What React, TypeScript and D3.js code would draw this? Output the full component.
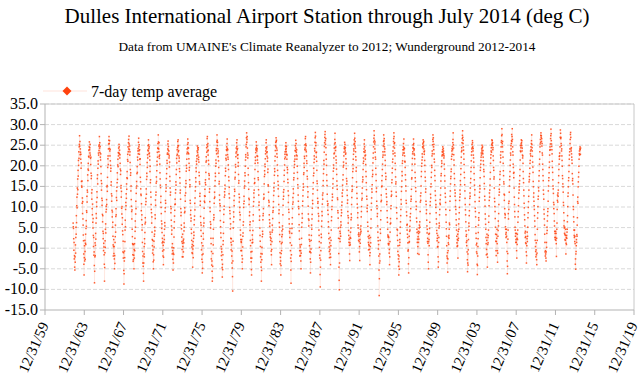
import React from "react";
import * as d3 from "d3";

// ---- Data (weekly 7-day average temperatures, deg C, estimated from the chart) ----
const firstYear = 1962;
const firstWeekOf1962 = 45; // series starts mid-November 1962

const temps1960s: number[][] = [
  [6.1, 5.2, 4.8, 2.3, -0.5, 1.4, -2.6],
  [-1.8,-4.6,-5.3,-2.1,-3.4,0.8,-1.2,2.6,5.1,3.4,7.9,6.2,10.3, 12.4,9.8,14.6,13.1,16.8,14.2,18.9,17.5,21.3,20.1,23.4,21.8,24.6, 25.2,27.3,24.8,25.9,22.7,24.1,23.3,21.6,22.8,19.4,20.7,16.2,15.1, 14.8,16.3,10.9,12.2,8.4,11.3,7.1,5.6,3.2,1.8,-1.4,-3.9,-6.5],
  [-2.3,0.6,-3.1,1.9,-0.8,-2.7,1.2,3.4,0.9,4.8,6.7,5.3,9.1, 8.7,12.6,11.2,14.1,13.6,17.8,16.4,19.2,20.6,18.9,22.3,23.8,22.1, 24.6,25.8,23.9,24.4,23.1,25.2,22.6,21.8,20.3,22.1,18.2,16.9,17.6, 13.4,11.9,14.2,9.6,8.1,10.7,6.3,4.9,7.2,3.1,0.4,2.6,-1.7],
  [-0.9,-4.2,-8.4,-5.6,-2.1,1.3,-1.8,0.7,3.6,2.2,6.1,8.4,7.3, 11.2,10.1,13.7,12.3,16.9,17.8,15.6,19.4,21.2,20.4,23.1,22.6,24.8, 23.7,25.1,27.1,24.3,25.6,23.2,24.7,22.1,21.4,22.9,19.8,18.1,16.4, 14.1,15.7,12.1,10.4,11.6,8.2,6.4,7.9,4.1,2.3,3.6,-0.6,1.2],
  [0.3,-1.6,-3.9,-8.0,-4.7,-1.1,1.8,0.2,4.6,5.9,3.7,8.8,10.2, 9.4,11.8,10.6,14.9,15.2,13.8,17.2,19.6,21.7,22.4,20.3,24.1,25.3, 26.2,27.1,25.4,24.2,26.1,23.6,22.4,24.0,21.2,20.1,18.7,19.4,15.3, 16.1,13.2,11.4,12.7,9.2,7.6,8.8,5.1,6.3,2.9,0.8,-1.9,0.4],
  [2.1,-1.3,0.4,-2.6,-5.0,-1.8,-3.7,1.4,2.8,5.6,3.9,7.7,9.6, 8.1,12.3,13.9,11.6,14.8,15.9,18.3,16.7,20.2,21.6,19.8,23.2,22.4, 24.3,23.1,25.2,24.6,22.9,23.8,21.9,22.7,20.6,19.2,17.9,18.8,14.6, 15.2,12.4,13.8,9.7,8.3,10.1,5.8,7.4,4.2,3.3,-0.9,1.7,-2.4],
  [-1.1,-5.4,-8.7,-6.2,-3.1,-0.7,-2.3,1.6,4.4,6.8,5.2,9.4,11.1, 10.3,13.2,12.1,15.6,14.3,17.1,18.6,16.9,21.5,22.8,21.1,24.6,23.4, 25.6,26.4,24.1,27.2,25.3,23.9,24.8,22.6,23.4,20.8,19.1,17.7,18.3, 13.9,15.1,11.8,10.2,8.9,7.1,9.3,4.6,2.8,1.1,-1.6,0.9,-3.2],
  [-2.8,0.9,-1.7,-5.0,-0.3,-2.4,1.1,-0.6,2.4,4.1,6.6,5.1,8.3, 11.4,9.6,13.3,14.6,16.2,15.1,18.1,19.8,18.4,22.1,21.4,23.6,24.2, 22.9,25.7,26.7,24.6,23.7,25.1,22.8,23.9,21.6,20.3,21.7,17.2,16.1, 14.4,13.1,12.8,9.1,10.8,6.9,8.1,4.4,5.7,1.4,-0.8,-3.6,-1.9],
];

const temps1970s: number[][] = [
  [-4.4,-6.1,-8.0,-3.6,-1.4,0.4,-2.1,2.3,1.1,3.8,5.9,7.4,6.3, 10.6,12.1,11.3,14.4,13.1,16.7,18.2,17.4,20.8,19.6,22.7,21.9,23.8, 24.9,23.6,26.3,25.1,24.2,22.9,24.6,23.1,22.3,21.4,18.6,19.9,15.9, 16.6,13.6,12.4,10.6,9.4,8.6,6.1,7.6,3.9,2.1,0.6,-1.2,1.9],
  [-0.4,-3.3,-5.0,-1.6,-2.9,1.7,0.3,2.9,3.4,5.1,4.2,8.1,7.2, 11.7,10.4,12.9,13.6,15.8,17.3,16.2,18.8,21.1,20.2,23.3,22.1,24.3, 25.4,24.2,27.5,25.8,24.1,23.4,25.6,22.3,21.8,22.6,20.4,18.3,16.8, 15.3,14.7,11.1,12.6,9.9,8.4,6.6,4.8,5.9,3.8,1.3,2.4,-0.7],
  [1.6,-1.9,0.7,-4.0,-2.2,-0.4,1.4,3.1,2.1,4.6,6.2,5.4,8.9, 9.8,11.6,10.9,13.8,15.4,14.6,16.9,18.1,19.3,21.3,20.6,22.8,23.1, 24.1,25.3,26.0,23.8,24.7,22.8,23.6,21.9,22.4,19.7,20.9,17.4,16.3, 14.6,12.9,13.6,10.1,8.6,9.6,6.8,5.4,3.4,4.4,0.2,-1.4,1.1],
  [-0.6,-2.7,-5.3,-1.2,-3.6,0.1,-1.5,2.7,4.9,6.4,7.8,9.2,10.6, 11.9,10.7,13.4,14.2,16.1,15.3,17.9,19.1,21.8,20.7,22.5,23.9,22.8, 24.4,25.9,24.8,26.3,23.4,24.9,23.7,22.4,21.1,21.9,19.3,18.6,17.1, 15.8,13.4,14.1,11.9,9.6,7.9,8.7,5.6,4.7,2.7,1.6,-0.3,-2.1],
  [1.2,3.4,0.4,-2.1,1.8,-0.9,2.2,1.3,4.2,6.1,5.1,8.6,9.8, 8.9,12.8,11.4,14.8,13.4,16.4,15.7,18.7,20.1,19.4,21.6,22.9,24.1, 23.3,25.2,26.5,24.4,25.6,23.1,24.3,22.9,21.7,20.6,18.9,19.6,16.6, 14.9,15.4,11.6,10.9,8.1,9.2,6.6,7.3,4.6,3.6,1.9,0.3,-1.1],
  [0.9,-1.3,-4.6,-0.2,1.6,-2.3,0.6,2.4,3.9,3.1,5.7,6.9,7.8, 10.9,9.3,12.2,13.9,14.9,17.1,16.1,19.5,18.6,21.1,20.4,22.4,21.7, 23.6,24.8,23.2,24.3,22.6,23.9,24.4,21.5,22.1,20.9,18.4,17.6,16.1, 15.6,12.6,13.3,10.4,11.4,7.7,6.2,4.3,5.6,2.9,-0.4,1.3,-2.7],
  [-1.6,-6.0,-3.4,-4.9,0.6,-1.4,3.6,2.2,5.4,7.3,6.1,9.7,11.4, 12.7,11.1,14.3,12.6,15.9,16.6,15.4,18.4,20.9,22.2,21.2,24.4,23.3, 25.1,26.6,27.1,24.7,23.6,25.4,22.6,23.8,21.3,20.4,18.1,16.8,17.7, 13.6,14.4,11.3,9.8,8.9,6.4,4.9,5.8,2.4,1.1,-2.6,-0.8,-4.1],
  [-3.1,-5.6,-8.0,-7.2,-4.4,-1.3,2.4,0.8,4.6,6.9,8.1,7.4,10.9, 12.1,13.6,12.4,15.1,16.4,18.2,17.4,19.9,21.4,20.6,23.7,24.2,22.9, 25.8,27.5,26.2,24.9,25.7,24.1,23.1,22.2,23.6,21.2,19.6,18.2,15.6, 16.2,12.9,11.7,10.8,9.1,10.3,6.7,5.2,3.7,2.6,0.4,-1.8,-0.2],
  [-0.9,-2.8,-4.7,-7.0,-3.9,-5.2,-1.6,0.9,1.8,3.6,6.3,8.2,9.4, 10.2,12.4,13.7,12.9,15.3,14.4,17.6,19.4,18.7,21.8,22.6,21.4,23.9, 24.6,23.7,25.4,26.5,24.2,22.7,23.9,22.1,21.6,20.2,19.1,17.3,16.4, 13.2,14.8,12.2,9.9,9.1,8.4,7.2,4.7,5.9,2.4,1.4,-0.4,2.3],
  [0.8,-1.9,-3.6,-0.7,-4.8,-6.9,-10.4,-3.1,1.7,4.9,6.4,8.8,7.6, 11.6,10.3,12.7,14.3,13.8,16.8,17.2,18.4,20.3,19.7,22.2,23.1,24.3, 23.4,25.6,24.7,26.3,23.9,22.6,24.2,21.8,22.7,19.9,20.8,17.9,15.8, 16.4,13.1,11.2,12.3,8.7,9.9,6.9,8.1,4.4,3.2,2.1,-0.6,1.6],
];

const temps1980s: number[][] = [
  [1.4,-0.6,2.1,-1.8,-3.4,-5.0,-2.6,0.3,2.9,3.7,5.6,6.4,9.9, 10.8,12.6,11.4,14.6,16.3,15.1,18.3,17.6,19.9,21.4,22.7,22.1,24.6, 25.2,26.8,28.0,25.7,26.4,27.1,24.3,23.1,21.9,22.6,19.4,17.8,15.9, 14.3,12.1,10.6,11.8,7.9,8.8,5.7,4.3,6.4,1.9,0.6,-2.4,-0.9],
  [-3.3,-5.2,-6.5,-2.4,-0.8,1.3,3.2,2.1,1.4,4.3,6.6,8.1,10.2, 11.3,13.4,12.3,14.1,15.7,16.9,15.9,19.1,20.6,22.1,21.3,23.2,24.1, 23.8,25.8,24.4,24.9,23.6,22.4,24.1,21.4,22.3,20.7,18.6,17.1,16.6, 14.2,12.9,10.4,11.2,9.3,6.8,7.8,4.9,3.1,1.7,0.4,-2.1,-3.4],
  [-1.3,-4.6,-8.0,-5.4,-2.8,0.2,-1.4,2.8,4.1,3.4,6.9,7.9,8.4, 9.6,11.9,13.1,12.2,15.6,17.4,18.8,17.9,20.4,19.8,21.7,22.9,23.6, 24.4,25.6,26.3,24.1,23.2,24.6,22.3,23.4,21.1,21.9,18.4,19.2,15.4, 15.1,13.6,11.6,10.3,11.2,8.1,6.9,5.3,6.1,3.9,2.7,3.4,1.9],
  [0.9,2.4,-0.7,-1.6,-4.0,-0.3,1.6,3.9,5.6,4.4,7.2,8.7,9.1, 9.9,11.3,12.8,14.7,13.9,15.8,17.7,19.3,18.6,21.2,22.3,23.7,24.9, 25.7,24.6,26.8,25.9,26.2,24.3,22.9,23.8,22.1,20.2,18.9,17.6,16.2, 14.4,15.3,12.6,10.6,8.4,9.3,6.2,5.1,3.3,1.6,-1.1,-3.8,-2.2],
  [-3.1,-6.5,-4.2,-1.3,1.1,-0.6,2.8,4.2,1.4,3.3,5.4,4.6,8.1, 10.4,11.9,13.6,12.6,14.2,16.2,17.7,18.9,20.2,21.7,22.8,23.4,22.1, 24.8,23.9,25.6,24.2,23.4,24.7,22.8,21.6,22.6,19.6,18.3,19.1,16.7, 15.9,13.9,11.1,12.8,9.4,8.7,7.1,5.9,4.1,3.7,2.6,4.8,1.3],
  [-0.6,-2.4,-5.3,-8.5,-3.2,-1.6,0.7,3.6,4.8,5.9,7.4,9.6,10.7, 12.3,11.2,14.4,13.3,16.6,17.1,18.2,19.6,21.1,20.3,22.4,21.6,23.7, 24.9,23.6,26.2,24.3,25.4,23.3,22.6,23.9,21.6,22.4,19.9,18.4,16.9, 15.4,14.6,12.9,11.4,10.1,9.6,8.2,5.7,4.2,2.2,-0.6,-1.9,0.8],
  [0.3,-1.8,-0.6,-3.1,-5.0,-1.2,0.9,2.4,5.1,6.2,8.4,7.3,10.3, 11.4,12.7,14.1,15.6,14.8,17.9,18.3,20.6,19.6,22.3,21.8,23.9,25.1, 24.3,26.6,27.1,25.3,23.8,24.9,23.4,22.4,21.2,20.6,18.8,17.4,16.8, 14.9,12.4,13.7,10.2,8.3,7.1,5.4,6.8,3.2,2.1,0.6,-0.9,1.7],
  [-0.8,-2.6,-6.0,-3.4,-1.1,-0.2,1.9,3.1,5.6,4.6,7.1,8.2,9.7, 11.6,10.8,13.2,14.4,15.9,17.6,19.4,18.2,20.8,22.4,21.6,24.2,23.6, 25.7,26.8,28.1,27.2,24.9,25.6,23.2,22.1,23.3,21.1,18.9,16.3,15.7, 14.1,12.1,10.9,11.3,9.8,8.4,6.6,7.8,4.4,3.1,1.6,0.2,-1.7],
  [-2.4,-6.4,-9.4,-4.6,-2.9,-0.6,1.3,3.4,2.6,5.3,6.6,8.9,7.9, 10.7,12.9,11.9,13.4,15.2,16.4,18.1,19.2,21.3,20.4,23.3,24.7,25.6, 26.9,27.6,28.3,26.1,25.2,26.6,24.4,22.7,21.6,20.1,17.8,16.4,15.2, 13.1,11.4,10.4,9.2,10.8,8.2,6.4,5.2,3.6,2.3,0.3,-0.8,-2.3],
  [1.3,-0.4,2.6,-1.4,-4.0,-2.2,0.6,1.9,4.4,6.7,7.6,9.4,10.1, 11.6,13.1,12.4,14.6,15.6,16.9,18.7,20.2,19.4,21.9,22.9,24.3,23.1, 25.3,26.4,27.9,25.6,24.4,23.7,24.6,22.3,21.4,20.7,19.2,17.9,16.3, 15.2,14.3,12.2,11.8,9.1,8.6,7.3,4.9,2.4,-1.3,-4.6,-7.8,-10.1],
];

const temps1990s: number[][] = [
  [-3.6,2.3,4.1,1.6,3.6,5.1,2.9,6.4,5.6,7.9,9.3,8.6,10.4, 11.2,13.4,12.6,15.3,14.1,16.6,17.8,19.7,20.9,20.1,22.4,23.3,24.2, 24.6,25.7,24.1,25.2,23.6,24.4,22.8,23.1,21.7,20.6,19.3,16.9,15.6, 16.3,14.1,12.8,10.9,11.7,8.9,7.9,6.1,7.4,4.3,3.1,1.4,2.2],
  [0.7,-1.4,-3.0,1.3,2.6,0.8,3.9,2.4,4.9,6.9,8.3,7.4,10.6, 12.3,13.8,15.1,14.2,17.1,18.6,20.3,19.3,21.6,22.8,24.1,23.6,25.2, 26.3,25.4,27.9,26.7,24.8,25.9,24.3,23.4,22.2,21.4,18.7,19.6,16.1, 14.8,13.3,12.1,10.7,9.8,7.4,8.6,5.6,4.9,3.3,1.9,3.7,2.9],
  [1.6,-0.9,0.4,-3.0,2.1,3.3,1.2,4.6,3.7,5.4,4.1,7.6,8.9, 10.1,11.7,13.3,12.1,14.6,16.1,17.3,16.6,19.1,20.6,21.9,21.1,23.4, 24.1,25.3,26.3,24.6,23.3,22.4,23.7,21.6,22.6,20.3,18.6,17.4,15.9, 14.2,12.6,11.9,9.7,8.9,10.4,6.3,5.3,4.1,2.8,1.4,-0.4,0.9],
  [2.4,0.6,3.1,-0.3,-1.8,-4.0,-1.1,0.4,2.6,1.3,4.9,7.1,9.3, 10.9,12.2,14.4,13.6,15.4,17.4,18.9,17.9,20.7,21.9,23.1,24.6,25.8, 26.7,28.5,27.4,26.2,25.3,24.1,25.8,23.3,22.1,21.6,19.4,17.9,16.4, 13.7,14.6,11.4,10.3,9.6,7.7,8.4,5.4,3.9,2.6,1.8,-0.2,0.9],
  [-1.9,-5.3,-11.5,-7.4,-3.6,-1.4,-3.1,1.9,4.6,3.6,6.9,9.1,11.3, 12.9,11.6,14.9,16.4,15.1,17.6,19.1,20.4,22.1,23.4,22.6,24.8,25.9, 27.5,26.1,25.3,26.6,24.6,23.4,24.1,22.6,21.3,20.1,18.2,16.7,17.4, 14.3,13.2,12.4,10.6,11.3,9.1,7.4,6.3,4.6,3.2,2.7,1.1,2.9],
  [0.8,2.6,1.1,-1.2,-0.3,-4.0,-2.1,1.6,3.9,5.9,7.2,6.1,9.6, 10.3,12.6,13.8,12.9,15.9,16.6,18.3,19.4,20.9,21.6,23.6,22.9,24.6, 25.9,26.6,28.0,27.1,25.4,24.3,25.6,23.1,22.4,20.6,19.1,17.3,15.6, 16.1,13.6,12.6,9.8,8.6,7.2,4.6,3.1,4.4,1.9,-0.8,0.6,-1.6],
  [-2.6,-4.4,-6.5,-1.9,-3.3,-5.1,0.7,2.1,1.4,3.6,5.1,6.4,7.9, 9.4,11.8,10.7,13.8,14.9,16.3,18.6,17.6,20.6,21.2,22.6,23.9,23.1, 24.6,25.4,23.9,26.5,24.3,23.1,24.2,22.4,21.1,20.9,19.6,17.8,16.6, 15.1,13.9,11.6,10.9,8.8,7.9,5.6,4.4,5.8,3.4,2.6,1.3,-0.7],
  [-0.4,-3.8,-6.0,-2.3,1.4,2.9,1.6,4.1,5.3,4.4,7.6,6.7,8.4, 9.6,11.4,12.6,11.9,14.3,16.8,17.1,18.9,20.4,21.8,22.9,23.4,24.4, 25.1,24.2,26.5,25.4,23.8,22.9,24.1,22.6,21.7,20.4,18.4,17.1,16.2, 14.7,13.8,11.3,9.4,10.2,7.3,6.4,4.6,3.8,1.4,2.2,-1.3,0.4],
  [2.8,4.1,1.4,3.6,2.2,-1.5,4.9,5.6,3.9,6.4,5.1,8.9,11.2, 12.7,11.6,13.4,15.1,17.4,18.6,19.9,20.6,21.4,22.9,22.1,24.6,25.3, 24.4,26.3,25.6,24.8,25.9,24.1,23.4,22.8,23.6,21.3,20.1,18.6,17.2, 16.3,13.6,14.4,11.4,10.6,8.4,9.3,6.8,5.4,3.7,4.6,1.6,2.4],
  [1.2,-1.6,-3.4,-5.0,1.6,3.4,2.1,0.6,3.6,4.8,6.3,8.4,10.4, 11.3,13.1,12.2,14.9,15.6,17.2,18.4,20.1,19.6,22.4,23.6,22.9,25.1, 26.4,27.5,25.9,26.8,24.6,23.9,25.2,22.9,21.6,20.9,18.9,17.6,16.4, 13.9,12.8,11.6,9.9,10.6,8.6,7.1,5.9,4.3,3.6,1.8,2.4,0.3],
];

const temps2000s: number[][] = [
  [3.1,0.4,-2.1,-4.6,-3.3,1.4,2.6,4.9,6.1,5.4,8.1,9.4,10.9, 11.8,10.6,12.9,14.6,16.3,17.6,18.1,19.8,21.2,20.6,22.4,23.4,22.7, 23.9,24.6,23.3,22.6,24.2,23.6,22.9,21.9,22.4,20.4,19.2,17.6,16.3, 14.6,13.3,12.4,11.1,9.4,8.1,6.3,4.7,2.9,0.6,-1.9,-3.6,-2.4],
  [-1.1,-5.8,-2.6,-0.6,1.3,2.7,0.9,3.1,2.4,4.6,6.1,5.7,9.2, 11.4,12.6,13.9,15.6,16.9,17.4,18.6,19.2,21.6,22.3,23.6,24.2,22.8, 24.7,23.9,25.6,26.4,28.0,25.1,24.3,22.7,21.4,20.2,18.1,16.9,15.4, 14.1,12.6,13.4,10.1,11.6,9.4,8.3,6.9,5.6,4.4,2.9,1.3,0.4],
  [2.1,0.6,3.4,-2.4,1.9,4.1,2.4,5.9,4.6,7.1,8.6,9.9,11.6, 12.4,14.1,13.1,16.4,15.4,17.9,19.3,20.7,22.1,23.4,24.4,23.7,25.6, 26.6,27.4,28.5,26.9,25.4,26.2,24.6,23.8,22.9,21.6,20.3,18.4,17.1, 15.4,13.9,12.1,10.6,9.3,8.1,6.4,4.2,2.9,1.4,3.3,0.6,1.8],
  [-0.9,-2.8,-5.7,-3.6,-1.4,-4.1,-0.4,2.1,4.4,6.1,5.3,7.9,9.1, 10.6,12.1,13.4,12.6,14.6,15.9,16.9,18.6,19.6,21.2,22.6,23.4,24.1, 25.2,24.4,26.1,25.6,24.6,23.6,24.2,22.6,21.9,20.9,19.6,18.1,16.6, 15.3,12.9,14.2,11.3,9.7,8.9,7.6,5.2,3.6,2.4,0.8,-0.9,1.2],
  [-1.3,-3.9,-6.4,-4.2,-1.9,0.4,2.3,3.8,5.6,7.4,6.8,8.6,11.4, 12.3,13.6,15.2,14.4,17.1,18.9,19.6,20.4,21.3,22.1,23.1,22.6,24.1, 23.6,25.0,24.4,23.1,24.6,22.9,23.7,22.1,21.2,20.3,19.1,18.6,17.4, 15.7,14.4,12.6,11.7,10.2,8.3,7.1,5.8,4.6,2.6,1.1,-1.6,-0.3],
  [1.9,3.4,-1.4,-4.6,-2.2,0.9,2.6,1.3,3.1,4.4,6.3,7.8,10.3, 11.6,13.4,12.4,14.1,15.3,16.8,18.4,20.6,21.9,22.7,23.6,24.4,23.3, 25.1,26.3,25.4,26.1,24.9,25.6,23.9,24.4,22.4,21.3,19.6,18.9,16.8, 17.3,14.6,12.1,11.3,10.1,8.9,7.2,5.1,3.4,1.7,-0.6,-1.8,1.6],
  [3.3,2.4,4.6,1.1,-0.6,-3.4,-1.2,2.9,4.3,6.6,5.4,8.4,10.6, 12.9,14.3,13.6,15.4,16.7,17.9,18.6,20.9,22.6,21.9,23.4,24.6,25.7, 26.1,27.3,29.0,27.6,25.4,24.6,25.9,23.4,22.1,20.6,18.8,17.6,16.1, 15.6,13.1,11.6,12.9,9.6,8.4,7.4,8.1,5.2,4.6,3.4,2.6,3.8],
  [4.6,2.9,1.4,-0.8,-3.1,-6.2,-4.4,-1.3,2.2,4.4,8.4,7.1,10.9, 9.4,11.4,13.6,15.1,16.6,17.4,18.6,20.1,21.4,23.1,22.6,24.9,24.1, 25.4,26.1,27.6,25.9,27.1,29.0,26.4,24.6,23.4,22.6,20.4,19.6,18.2, 17.1,18.4,14.6,12.4,10.6,8.9,7.6,5.1,4.4,2.9,3.6,1.4,2.1],
  [1.4,3.6,-0.6,-2.4,2.4,0.9,3.4,2.1,4.4,6.3,7.6,8.9,10.3, 12.1,13.4,14.9,14.1,15.6,16.4,17.6,19.1,21.4,23.6,24.9,23.4,24.4, 25.3,26.3,25.6,24.9,26.1,23.6,24.3,22.6,21.9,22.4,20.6,18.6,16.9, 15.9,14.1,12.7,10.9,9.8,8.1,6.9,5.4,3.7,2.6,4.1,1.3,2.8],
  [1.1,-0.9,-3.6,-1.8,0.6,2.3,3.9,1.6,2.9,5.1,7.4,8.6,9.9, 11.3,12.6,14.1,16.1,17.4,16.6,18.1,19.4,20.6,21.3,22.9,23.6,22.4, 24.6,23.9,25.4,26.1,27.5,25.2,24.4,23.6,22.3,20.9,19.7,18.4,16.2, 14.9,12.4,13.4,11.4,10.3,9.4,7.9,6.6,5.3,3.3,1.9,0.4,-0.8],
];

const temps2010s: number[][] = [
  [-2.1,-0.4,1.3,-1.6,-2.8,-4.0,-1.2,1.9,4.6,7.3,8.6,10.1,11.9, 12.6,14.7,13.9,16.3,17.6,18.8,20.4,21.6,23.4,24.6,25.3,26.4,25.7, 27.4,28.0,26.9,27.3,25.9,26.6,24.8,25.4,23.1,22.6,20.4,19.1,17.6, 16.4,14.1,13.1,11.9,9.4,8.3,7.1,5.6,3.4,1.4,-0.9,-1.9,-0.6],
  [-1.4,-2.4,-3.1,-0.9,1.4,0.2,3.6,5.1,4.3,6.6,7.9,8.9,9.6, 11.4,13.9,15.1,16.4,17.1,18.3,19.6,20.9,22.6,23.8,24.6,23.9,25.3, 26.6,27.3,28.9,27.8,26.1,25.3,24.7,23.9,22.9,21.1,19.6,18.4,16.6, 15.1,14.4,13.3,11.1,9.6,10.6,8.4,6.6,5.4,4.1,2.6,3.6,2.1],
  [2.6,4.1,1.9,3.6,1.1,-2.0,2.4,4.6,6.1,9.4,11.6,12.9,11.2, 13.4,12.6,14.1,15.9,17.6,19.1,20.4,22.3,21.6,23.1,22.4,24.6,26.9, 28.7,27.9,26.6,26.9,25.4,24.9,23.6,24.1,22.4,21.3,19.9,17.6,16.9, 15.6,14.9,13.6,11.1,10.4,8.6,5.4,6.7,4.9,3.6,5.1,3.3,2.1],
  [1.9,3.1,4.6,-1.4,1.2,2.6,0.9,3.1,2.4,3.9,4.6,6.4,7.9, 10.1,12.6,13.4,14.9,16.4,17.1,18.6,20.1,21.6,22.6,23.4,24.1,25.4, 26.4,27.6,28.1,26.9,24.1,23.6,24.4,22.9,22.1,21.4,20.6,18.1,16.4, 16.9,15.6,12.9,10.1,9.4,7.6,6.4,4.4,3.1,2.6,4.4,1.6,2.9],
  [1.1,-3.9,-2.6,-5.1,-1.4,-0.8,0.6,2.1,1.4,3.3,2.9,5.6,7.4, 11.3,12.4,10.9,14.9,16.1,17.3,18.4,19.9,21.6,22.9,23.6,22.6,24.1, 24.6,23.9,22.8,24.3],
];

const yTickValues = [35, 30, 25, 20, 15, 10, 5, 0, -5, -10, -15];
const xTickYears = [1959, 1963, 1967, 1971, 1975, 1979, 1983, 1987, 1991, 1995, 1999, 2003, 2007, 2011, 2015, 2019];

const titleText = "Dulles International Airport Station through July 2014 (deg C)";
const subtitleText = "Data from UMAINE's Climate Reanalyzer to 2012; Wunderground 2012-2014";
const legendText = "7-day temp average";

// ---- Build points ----
type Pt = { date: Date; v: number };
const allRows = [...temps1960s, ...temps1970s, ...temps1980s, ...temps1990s, ...temps2000s, ...temps2010s];
const points: Pt[] = [];
allRows.forEach((row, i) => {
  const year = firstYear + i;
  const offset = i === 0 ? firstWeekOf1962 : 0;
  row.forEach((v, k) => {
    points.push({ date: new Date(year, 0, 1 + 7 * (k + offset)), v });
  });
});

const W = 640;
const H = 380;
const left = 45;
const right = 634;
const top = 104;
const bottom = 310;
const seriesColor = "#ff420e";
const serif = "'Liberation Serif', 'DejaVu Serif', serif";

export default function App() {
  const x = d3
    .scaleTime()
    .domain([new Date(1959, 11, 31), new Date(2019, 11, 31)])
    .range([left, right]);
  const y = d3.scaleLinear().domain([-15, 35]).range([bottom, top]);
  const fmt = d3.timeFormat("%m/%d/%y");
  const line = d3
    .line<Pt>()
    .x((d) => x(d.date))
    .y((d) => y(d.v));

  return (
    <svg
      width={W}
      height={H}
      viewBox={`0 0 ${W} ${H}`}
      style={{ position: "absolute", left: 0, top: 0, background: "#fff" }}
    >
      <rect x={0} y={0} width={W} height={H} fill="#fff" />
      {/* Title */}
      <text
        x={327}
        y={23}
        textAnchor="middle"
        fontFamily={serif}
        fontSize={22}
        fill="#000"
        textLength={525}
        lengthAdjust="spacingAndGlyphs"
      >
        {titleText}
      </text>
      <text
        x={327}
        y={51}
        textAnchor="middle"
        fontFamily={serif}
        fontSize={12.5}
        fill="#000"
        textLength={417}
        lengthAdjust="spacingAndGlyphs"
      >
        {subtitleText}
      </text>

      {/* Legend */}
      <line x1={43} x2={87} y1={91} y2={91} stroke={seriesColor} strokeOpacity={0.15} strokeWidth={1} />
      <path d="M67,86.5 L71.5,91 L67,95.5 L62.5,91 Z" fill={seriesColor} />
      <text x={91} y={97} fontFamily={serif} fontSize={16} fill="#000">
        {legendText}
      </text>

      {/* Grid */}
      {yTickValues
        .filter((v) => v !== -15)
        .map((v) => (
          <line
            key={"g" + v}
            x1={left}
            x2={right}
            y1={y(v)}
            y2={y(v)}
            stroke="#d9d9d9"
            strokeWidth={1}
            strokeDasharray="4,2"
          />
        ))}
      {/* Plot border */}
      <line x1={left} x2={right} y1={top} y2={top} stroke="#c8c8c8" />
      <line x1={right} x2={right} y1={top} y2={bottom} stroke="#c8c8c8" />
      <line x1={left} x2={left} y1={top} y2={bottom} stroke="#b3b3b3" />
      <line x1={left} x2={right} y1={bottom} y2={bottom} stroke="#b3b3b3" />

      {/* Y ticks & labels */}
      {yTickValues.map((v) => (
        <g key={"y" + v}>
          <line x1={left - 5} x2={left} y1={y(v)} y2={y(v)} stroke="#b3b3b3" />
          <text
            x={38}
            y={y(v) + 5}
            textAnchor="end"
            fontFamily={serif}
            fontSize={16}
            fill="#000"
          >
            {v.toFixed(1)}
          </text>
        </g>
      ))}

      {/* X ticks & labels */}
      {xTickYears.map((yr) => {
        const d = new Date(yr, 11, 31);
        const px = x(d);
        return (
          <g key={"x" + yr}>
            <line x1={px} x2={px} y1={bottom} y2={bottom + 5} stroke="#b3b3b3" />
            <text
              transform={`translate(${px + 4},${bottom + 15}) rotate(-66)`}
              textAnchor="end"
              fontFamily={serif}
              fontSize={15}
              fill="#000"
            >
              {fmt(d)}
            </text>
          </g>
        );
      })}

      {/* Series */}
      <path d={line(points) || ""} fill="none" stroke={seriesColor} strokeOpacity={0.07} strokeWidth={1} />
      {points.map((p, i) => (
        <rect
          key={i}
          x={x(p.date) - 0.75}
          y={y(p.v) - 0.75}
          width={1.5}
          height={1.5}
          fill={seriesColor}
          fillOpacity={0.85}
        />
      ))}
    </svg>
  );
}
